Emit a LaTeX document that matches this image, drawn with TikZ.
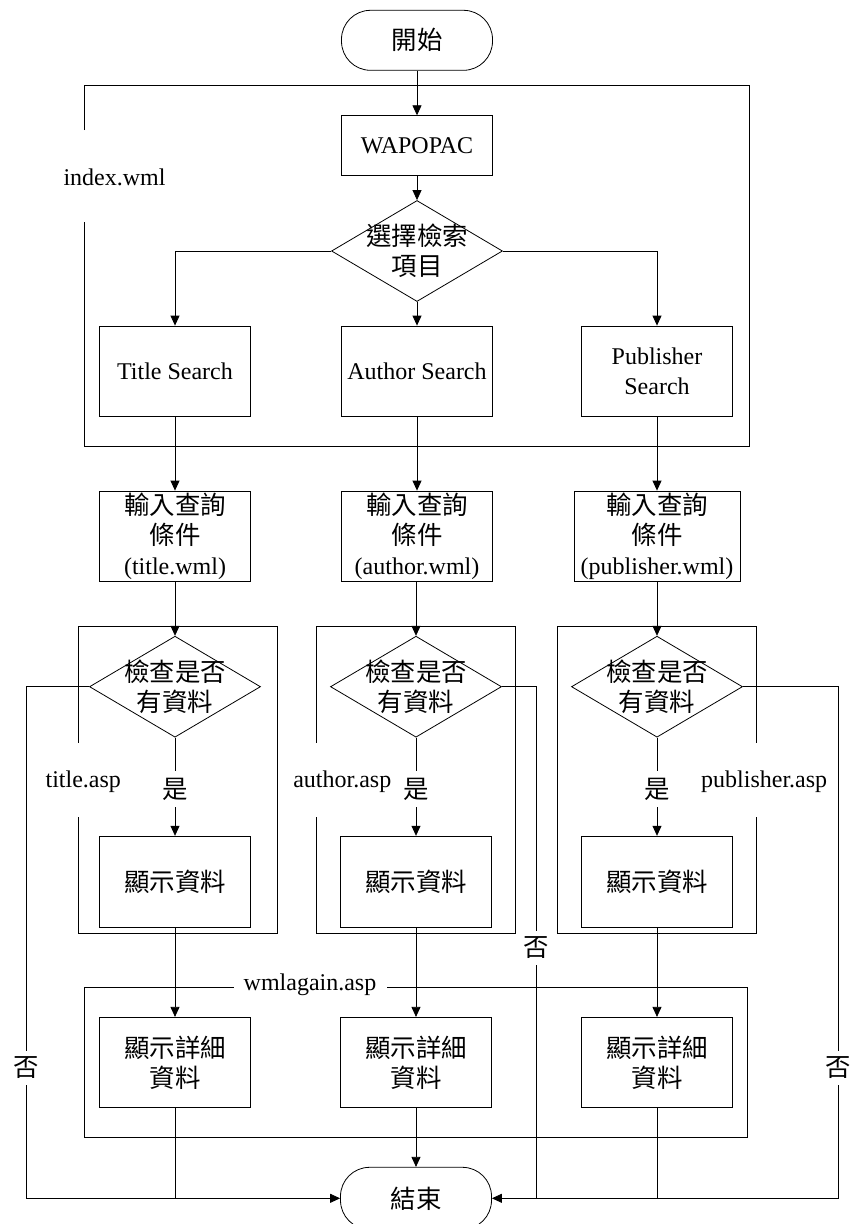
\documentclass[tikz,border=0pt]{standalone}
\usepackage{fontspec}
\setmainfont{Liberation Serif}
\newfontfamily\cjk[Scale=1.06]{Noto Sans CJK TC}
\usetikzlibrary{arrows.meta,shapes.geometric}
\tikzset{
  txt/.style={font=\fontsize{24}{30}\selectfont, align=center},
  procbox/.style={draw, txt, minimum width=151pt, minimum height=90pt, inner sep=0pt},
  termbox/.style={draw, txt, rounded corners=29pt, minimum width=151pt, minimum height=60pt, inner sep=0pt},
  decbox/.style={draw, diamond, minimum width=171pt, minimum height=101pt, inner sep=0pt},
  lbl/.style={txt, fill=white, inner sep=1pt},
  arr/.style={-{Triangle[length=10pt,width=9pt]}},
  frame/.style={line width=0.8pt}
}
\begin{document}
\begin{tikzpicture}[x=1pt,y=-1pt,line width=0.8pt]
\useasboundingbox (0,0) rectangle (851,1224);

% top part
\node[termbox] (start) at (417,40.3) {\cjk 開始};
\node[procbox, minimum height=60pt] (wap) at (417,145.7) {WAPOPAC};
\node[decbox] (sel) at (417,251) {};
\node[txt] at (417,251) {\cjk 選擇檢索\\\cjk 項目};
\node[procbox] (ts) at (175,371) {Title Search};
\node[procbox] (as) at (417,371) {Author Search};
\node[procbox] (ps) at (657,371) {Publisher\\Search};

% index.wml frame
\draw[frame] (84.5,130) -- (84.5,85.7) -- (749,85.7) -- (749,446) -- (84.5,446) -- (84.5,222);
\node[txt] (idx) at (114.5,177) {index.wml};

\draw[arr] (start) -- (wap);
\draw[arr] (wap) -- (sel);
\draw[arr] (sel.west) -| (ts.north);
\draw[arr] (sel) -- (as);
\draw[arr] (sel.east) -| (ps.north);

% input boxes
\node[procbox] (ti) at (175,536) {{\cjk 輸入查詢}\\{\cjk 條件}\\(title.wml)};
\node[procbox] (ai) at (417,536) {{\cjk 輸入查詢}\\{\cjk 條件}\\(author.wml)};
\node[procbox, minimum width=166pt] (pi) at (657,536) {{\cjk 輸入查詢}\\{\cjk 條件}\\(publisher.wml)};
\draw[arr] (ts) -- (ti);
\draw[arr] (as) -- (ai);
\draw[arr] (ps) -- (pi);

% asp frames
\draw[frame] (78.3,742.7) -- (78.3,626.7) -- (277.3,626.7) -- (277.3,933.3) -- (78.3,933.3) -- (78.3,816.7);
\draw[frame] (316,742.7) -- (316,626.7) -- (515.3,626.7) -- (515.3,933.3) -- (316,933.3) -- (316,816.7);
\draw[frame] (756,742.7) -- (756,626.7) -- (557.3,626.7) -- (557.3,933.3) -- (756,933.3) -- (756,816.7);
\node[txt] (tasp) at (83.3,781.7) {title.asp};
\node[txt] (aasp) at (342.3,781.7) {author.asp};
\node[txt] (pasp) at (764.2,781.7) {publisher.asp};

% decisions
\node[decbox] (dA) at (175,686.7) {};
\node[txt] at (175,686.7) {\cjk 檢查是否\\\cjk 有資料};
\node[decbox] (dB) at (416,686.7) {};
\node[txt] at (416,686.7) {\cjk 檢查是否\\\cjk 有資料};
\node[decbox] (dC) at (657,686.7) {};
\node[txt] at (657,686.7) {\cjk 檢查是否\\\cjk 有資料};
\draw[arr] (ti.south) -- (dA.north);
\draw[arr] (ai.south -| dB.north) -- (dB.north);
\draw[arr] (pi.south) -- (dC.north);

% show data
\node[procbox, minimum height=91pt] (sA) at (175,881.7) {\cjk 顯示資料};
\node[procbox, minimum height=91pt] (sB) at (416,881.7) {\cjk 顯示資料};
\node[procbox, minimum height=91pt] (sC) at (657,881.7) {\cjk 顯示資料};
\draw[arr] (dA) -- (sA);
\draw[arr] (dB) -- (sB);
\draw[arr] (dC) -- (sC);
\node[lbl, inner ysep=7pt] at (175,789) {\cjk 是};
\node[lbl, inner ysep=7pt] at (416,789) {\cjk 是};
\node[lbl, inner ysep=7pt] at (657,789) {\cjk 是};

% wmlagain frame
\draw[frame] (233.7,987) -- (84.8,987) -- (84.8,1137) -- (747.8,1137) -- (747.8,987) -- (387,987);
\node[txt] (wasp) at (310,985) {wmlagain.asp};

% details
\node[procbox] (eA) at (175,1062.3) {{\cjk 顯示詳細}\\{\cjk 資料}};
\node[procbox] (eB) at (416,1062.3) {{\cjk 顯示詳細}\\{\cjk 資料}};
\node[procbox] (eC) at (657,1062.3) {{\cjk 顯示詳細}\\{\cjk 資料}};
\draw[arr] (sA) -- (eA);
\draw[arr] (sB) -- (eB);
\draw[arr] (sC) -- (eC);

% end
\node[termbox, minimum height=62pt] (end) at (416,1198.3) {\cjk 結束};
\draw[arr] (eB) -- (end);
\coordinate (lc) at (26,1198.3);
\coordinate (rc) at (838.6,1198.3);
\coordinate (mc) at (536,1198.3);
\draw[arr] (dA.west) -| (lc) -- (end.west);
\draw (eA.south) -- (eA.south |- end.west);
\draw[arr] (dC.east) -| (rc) -- (end.east);
\draw (eC.south) -- (eC.south |- end.east);
\draw (dB.east) -| (mc);
\node[lbl, inner ysep=6pt] at (26,1068) {\cjk 否};
\node[lbl, inner ysep=6pt] at (838.6,1068) {\cjk 否};
\node[lbl, inner ysep=6pt] at (536,948) {\cjk 否};
\end{tikzpicture}
\end{document}
